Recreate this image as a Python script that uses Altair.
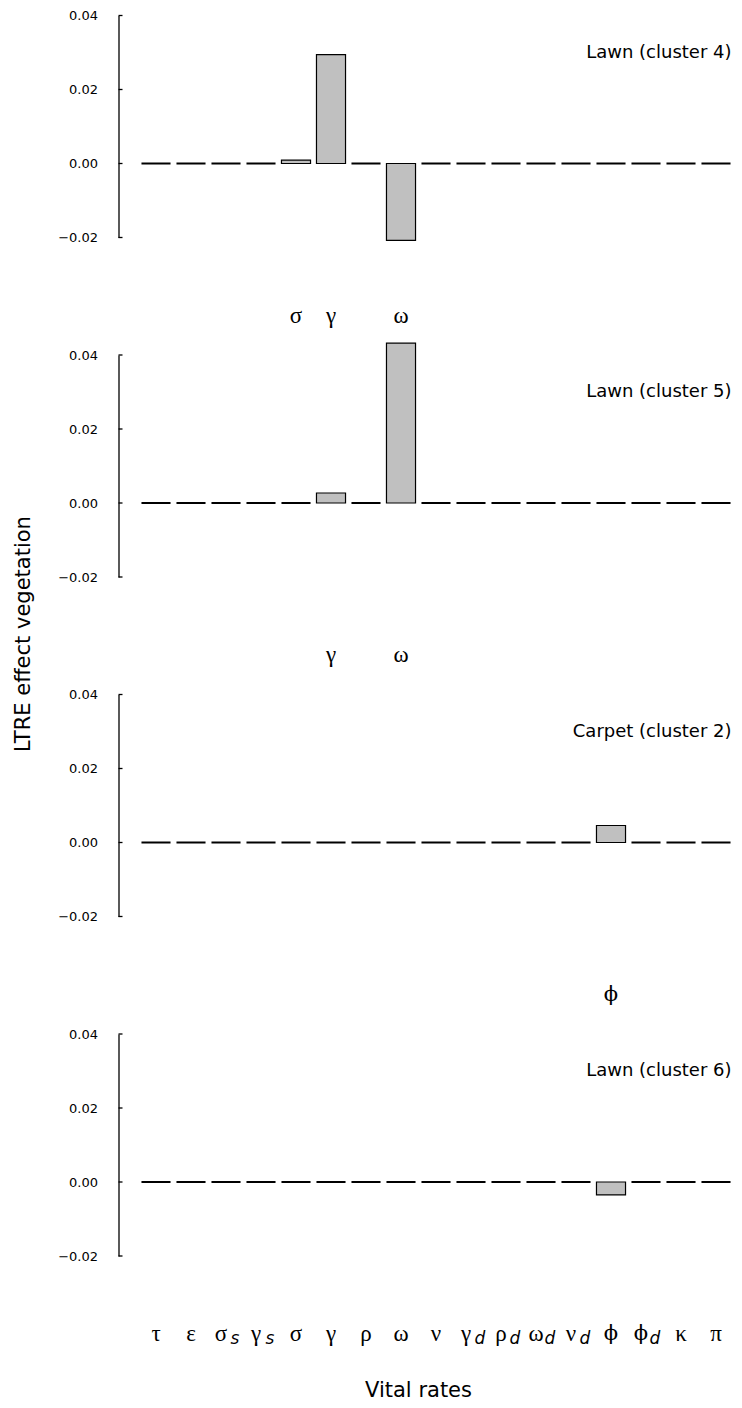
import altair as alt
import pandas as pd

# ---- data ----
rate_symbols = ["τ", "ε", "σ", "γ", "σ", "γ", "ρ", "ω", "ν", "γ", "ρ", "ω", "ν", "ϕ", "ϕ", "κ", "π"]
rate_subscripts = ["", "", "s", "s", "", "", "", "", "", "d", "d", "d", "d", "", "d", "", ""]
panel_names = ["Lawn (cluster 4)", "Lawn (cluster 5)", "Carpet (cluster 2)", "Lawn (cluster 6)"]
lawn4 = [0, 0, 0, 0, 0.0009, 0.0294, 0, -0.0208, 0, 0, 0, 0, 0, 0, 0, 0, 0]
lawn5 = [0, 0, 0, 0, 0, 0.0027, 0, 0.0432, 0, 0, 0, 0, 0, 0, 0, 0, 0]
carpet2 = [0, 0, 0, 0, 0, 0, 0, 0, 0, 0, 0, 0, 0, 0.0046, 0, 0, 0]
lawn6 = [0, 0, 0, 0, 0, 0, 0, 0, 0, 0, 0, 0, 0, -0.0035, 0, 0, 0]
y_ticks = [-0.02, 0.0, 0.02, 0.04]
y_title = "LTRE effect vegetation"
x_title = "Vital rates"

panel_values = [lawn4, lawn5, carpet2, lawn6]
rate_keys = [s + b for s, b in zip(rate_symbols, rate_subscripts)]

W, H = 595, 222
LABEL_Y = H + 78
GREEK_FONT = "Liberation Serif"
PHI_FONT = "DejaVu Serif"


def panel(name, values, idx, last):
    df = pd.DataFrame({"rate": rate_keys, "sym": rate_symbols, "sub": rate_subscripts, "value": values})
    base = alt.Chart(df)
    xenc = alt.X("rate:N", sort=rate_keys,
                 scale=alt.Scale(domain=rate_keys, paddingInner=0.17, paddingOuter=0.085),
                 axis=None)
    yscale = alt.Scale(domain=[-0.02, 0.04], nice=False, zero=False)

    bars = base.mark_bar(fill="#c0c0c0", stroke="black").encode(
        x=xenc,
        y=alt.Y("value:Q", scale=yscale,
                axis=alt.Axis(values=y_ticks, format=".2f", offset=20, ticks=False, tickSize=0,
                              grid=False, labelPadding=21, labelFont="DejaVu Sans",
                              labelFontSize=13, labelColor="black", domainColor="black",
                              domainWidth=1.3, title=None)),
        y2=alt.datum(0),
        strokeWidth=alt.condition(alt.datum.value == 0, alt.value(2.2), alt.value(1.2)),
    )

    ticks = alt.Chart(pd.DataFrame({"t": y_ticks})).mark_rule(color="black", strokeWidth=1.3).encode(
        y=alt.Y("t:Q", scale=yscale, title=None),
        x=alt.value(-20), x2=alt.value(-16),
    )

    name_txt = alt.Chart(pd.DataFrame({"name": [name]})).mark_text(
        align="right", baseline="middle", font="DejaVu Sans", fontSize=18, color="black"
    ).encode(text="name:N", x=alt.value(W - 2), y=alt.datum(0.03))

    shown = base if last else base.transform_filter(alt.datum.value != 0)
    is_phi = alt.datum.sym == "ϕ"
    not_phi = alt.datum.sym != "ϕ"
    has_sub = alt.datum.sub != ""
    no_sub = alt.datum.sub == ""

    def greek(filters, font, dx, size):
        c = shown
        for f in filters:
            c = c.transform_filter(f)
        return c.mark_text(font=font, fontSize=size, baseline="middle", color="black", dx=dx).encode(
            x=xenc, y=alt.value(LABEL_Y), text="sym:N")

    sym_plain = greek([no_sub, not_phi], GREEK_FONT, 0, 23)
    sym_sub = greek([has_sub, not_phi], GREEK_FONT, -5, 23)
    phi_plain = greek([no_sub, is_phi], PHI_FONT, 0, 21)
    phi_sub = greek([has_sub, is_phi], PHI_FONT, -5, 21)
    sub_txt = shown.transform_filter(has_sub).mark_text(
        font="DejaVu Sans", fontStyle="italic", fontSize=17, baseline="middle", color="black", dx=9, dy=5
    ).encode(x=xenc, y=alt.value(LABEL_Y), text="sub:N")

    layers = [bars, ticks, name_txt, sym_plain, sym_sub, phi_plain, phi_sub, sub_txt]

    if idx == 1:
        ytitle = alt.Chart(pd.DataFrame({"t": [y_title]})).mark_text(
            angle=270, baseline="middle", align="center", font="DejaVu Sans", fontSize=21, color="black"
        ).encode(text="t:N", x=alt.value(-114.5), y=alt.value(279))
        layers.append(ytitle)
    if last:
        xt = alt.Chart(pd.DataFrame({"t": [x_title]})).mark_text(
            baseline="middle", align="center", font="DejaVu Sans", fontSize=21, color="black"
        ).encode(text="t:N", x=alt.value(280), y=alt.value(H + 135))
        layers.append(xt)

    return alt.layer(*layers).properties(width=W, height=H)


panels = [panel(n, v, i, i == len(panel_names) - 1)
          for i, (n, v) in enumerate(zip(panel_names, panel_values))]

chart = alt.vconcat(*panels, spacing=117.5, bounds="flush").properties(
    padding={"left": 4.5, "top": 1.5, "right": 0, "bottom": 0}
).configure_view(stroke=None).configure_axis(domainCap="butt")

chart.save("out.html", embed_options={"renderer": "svg", "actions": False})
